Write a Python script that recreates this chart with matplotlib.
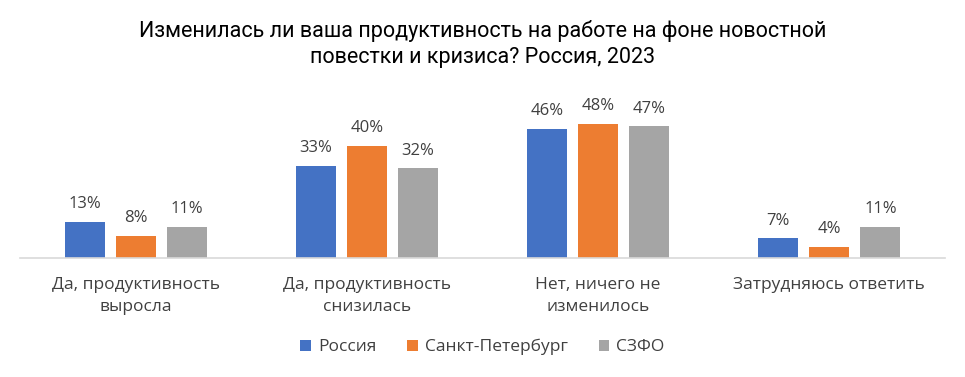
import matplotlib.pyplot as plt
import numpy as np

plt.rcParams['font.family'] = ['Open Sans', 'DejaVu Sans']

categories = ['Да, продуктивность\nвыросла', 'Да, продуктивность\nснизилась',
              'Нет, ничего не\nизменилось', 'Затрудняюсь ответить']
series = ['Россия', 'Санкт-Петербург', 'СЗФО']
russia = [13, 33, 46, 7]
spb = [8, 40, 48, 4]
szfo = [11, 32, 47, 11]
colors = ['#4472C4', '#ED7D31', '#A5A5A5']

fig = plt.figure(figsize=(9.65, 3.77), dpi=100)
ax = fig.add_axes([20 / 965, 1 - 258 / 377, 925 / 965, 168 / 377])

x = np.arange(len(categories))
w = 40 / 231
step = 51 / 231
for i, (vals, name) in enumerate(zip([russia, spb, szfo], series)):
    pos = x + (i - 1) * step
    bars = ax.bar(pos, vals, width=w, color=colors[i], label=name)
    for xp, v in zip(pos, vals):
        ax.text(xp, v + 3.5, f'{v}%', ha='center', va='bottom',
                fontsize=12, color='#404040')

ax.set_xlim(-0.5, len(categories) - 0.5)
ax.set_ylim(0, 60)
ax.set_yticks([])
ax.set_xticks(x)
ax.set_xticklabels(categories, fontsize=12.5, color='#404040', linespacing=1.45)
ax.tick_params(axis='x', length=0, pad=14)
for s in ['top', 'right', 'left']:
    ax.spines[s].set_visible(False)
ax.spines['bottom'].set_color('#D9D9D9')
ax.spines['bottom'].set_linewidth(1.2)

fig.text(0.5, 1 - 44 / 377, 'Изменилась ли ваша продуктивность на работе на фоне новостной\nповестки и кризиса? Россия, 2023',
         ha='center', va='center', fontsize=15.5, color='black', linespacing=1.3,
         family=['Roboto', 'DejaVu Sans'])

fig.legend(loc='center', bbox_to_anchor=(0.5, 1 - 347 / 377), ncol=3, frameon=False,
           fontsize=12.5, handlelength=0.6, handleheight=0.6, handletextpad=0.4,
           columnspacing=1.8, labelcolor='#404040')

fig.savefig('out.png', dpi=100)
